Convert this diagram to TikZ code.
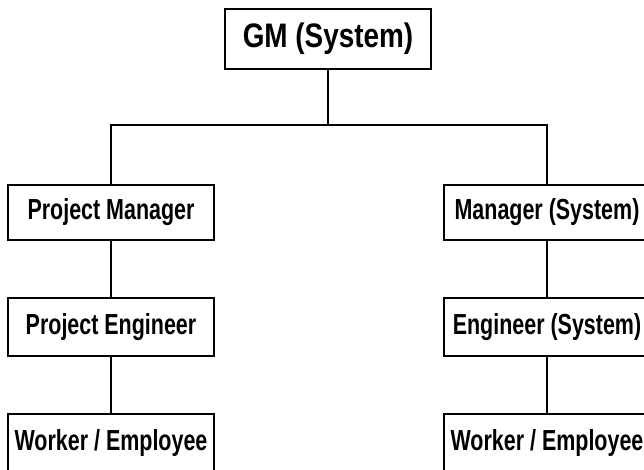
\documentclass[tikz,border=0pt]{standalone}
\usepackage{fontspec}
\setmainfont{Liberation Sans}
\usepackage{graphicx}
\newcommand{\boxlbl}[2][29]{\scalebox{0.74}[1]{\fontsize{#1}{#1}\selectfont\bfseries #2}}
\begin{document}
\begin{tikzpicture}[x=1pt,y=-1pt,
  orgbox/.style={draw=black, line width=1.3pt, fill=white, minimum width=206pt, inner sep=0pt, anchor=center},
  link/.style={line width=1.3pt}]
\clip (0,0) rectangle (644,470);
\fill[white] (0,0) rectangle (644,470);
\node[orgbox, minimum height=60pt] (gm) at (328,39) {\scalebox{0.82}[1]{\fontsize{34}{34}\selectfont\bfseries GM (System)}};
\node[orgbox, minimum height=55pt] (l1) at (111,212.5) {\boxlbl{Project Manager}};
\node[orgbox, minimum height=58pt] (l2) at (111,327) {\boxlbl{Project Engineer}};
\node[orgbox, minimum height=58pt] (l3) at (111,443) {\boxlbl{Worker / Employee}};
\node[orgbox, minimum height=55pt] (r1) at (547,212.5) {\boxlbl{Manager (System)}};
\node[orgbox, minimum height=58pt] (r2) at (547,327) {\boxlbl{Engineer (System)}};
\node[orgbox, minimum height=58pt] (r3) at (547,443) {\boxlbl{Worker / Employee}};
\coordinate (busL) at (111,125);
\coordinate (busR) at (547,125);
\draw[link] (gm.south) -- (gm.south |- busL);
\draw[link] (l1.north) -- (busL) -- (busR) -- (r1.north);
\draw[link] (l1.south) -- (l2.north);
\draw[link] (l2.south) -- (l3.north);
\draw[link] (r1.south) -- (r2.north);
\draw[link] (r2.south) -- (r3.north);
\end{tikzpicture}
\end{document}
